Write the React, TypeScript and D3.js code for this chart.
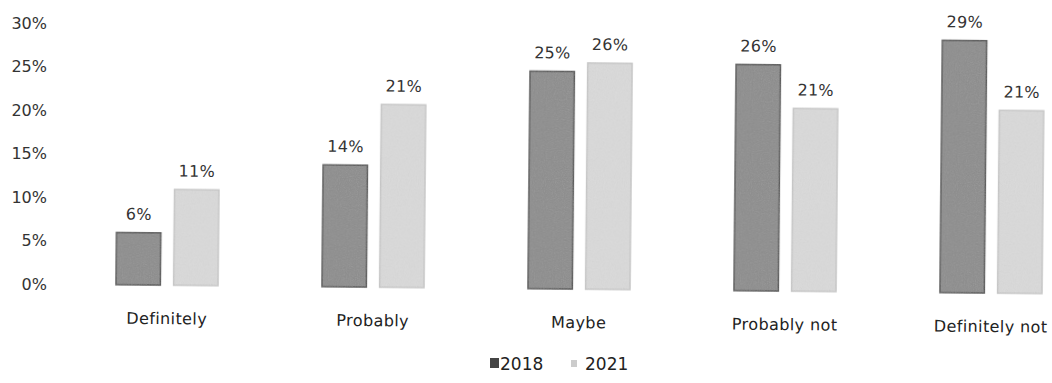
import React from "react";
import * as d3 from "d3";

const categories = ["Definitely", "Probably", "Maybe", "Probably not", "Definitely not"];
const seriesNames = ["2018", "2021"];
const values2018 = [6, 14, 25, 26, 29];
const values2021 = [11, 21, 26, 21, 21];
const yTicks = [0, 5, 10, 15, 20, 25, 30];

const W = 1052;
const H = 383;
const FONT = "'DejaVu Sans', sans-serif";
const colors: Record<string, string> = { "2018": "#8c8c8c", "2021": "#dadada" };
const strokes: Record<string, string> = { "2018": "#555555", "2021": "#c8c8c8" };

export default function App() {
  const y = d3.scaleLinear().domain([0, 30]).range([284, 23]);
  const x0 = d3.scaleBand<string>().domain(categories).range([64, 1094]).padding(0);
  const x1 = d3.scaleBand<string>().domain(seriesNames).range([-51, 51]).paddingInner(0.23);
  const data = categories.map((c, i) => ({ c, vals: [values2018[i], values2021[i]] }));

  return (
    <svg width={W} height={H} style={{ position: "absolute", left: 0, top: 0, background: "#fff" }} fontFamily={FONT}>
      <defs>
        <filter id="grain">
          <feTurbulence type="fractalNoise" baseFrequency="0.9" numOctaves="2" seed="3" />
          <feColorMatrix type="saturate" values="0" />
          <feComponentTransfer>
            <feFuncA type="table" tableValues="0 0.18" />
          </feComponentTransfer>
          <feComposite in2="SourceGraphic" operator="in" />
          <feMerge>
            <feMergeNode in="SourceGraphic" />
            <feMergeNode />
          </feMerge>
        </filter>
      </defs>
      {yTicks.map((t) => (
        <text key={t} x={47} y={y(t)} dy="0.35em" textAnchor="end" fontSize={16} fill="#333">
          {t}%
        </text>
      ))}
      <g transform="rotate(0.55, 47, 284)">
        {data.map((d) => {
          const cx = (x0(d.c) as number) + x0.bandwidth() / 2;
          return (
            <g key={d.c} transform={`translate(${cx},0)`}>
              {seriesNames.map((s, j) => {
                const v = d.vals[j];
                const bx = x1(s) as number;
                return (
                  <g key={s}>
                    <rect
                      x={bx}
                      y={y(v)}
                      width={x1.bandwidth()}
                      height={y(0) - y(v)}
                      fill={colors[s]}
                      stroke={strokes[s]}
                      strokeWidth={1.5}
                      filter="url(#grain)"
                    />
                    <text x={bx + x1.bandwidth() / 2} y={y(v) - 13} textAnchor="middle" fontSize={16} letterSpacing={0.3} fill="#333">
                      {v}%
                    </text>
                  </g>
                );
              })}
              <text x={0} y={323} textAnchor="middle" fontSize={16} letterSpacing={0.4} fill="#222">
                {d.c}
              </text>
            </g>
          );
        })}
      </g>
      <g>
        <rect x={490} y={358} width={9} height={10} fill="#444" />
        <text x={500} y={370} fontSize={17} fill="#222">2018</text>
        <rect x={571} y={360} width={6} height={7} fill="#ccc" />
        <text x={585} y={370} fontSize={17} fill="#222">2021</text>
      </g>
    </svg>
  );
}
